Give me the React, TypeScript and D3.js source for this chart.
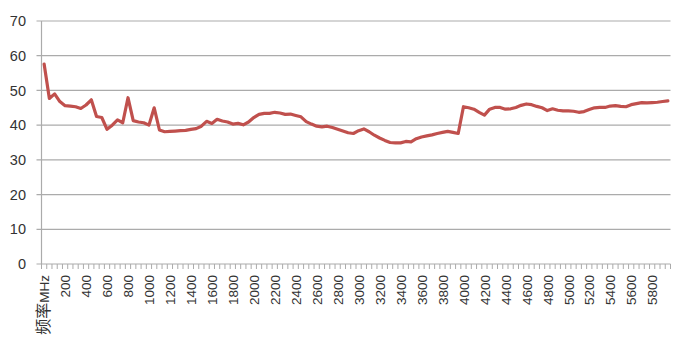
import * as d3 from 'd3';

// category axis: header cell first, then 50 MHz steps
const categories: string[] = ['频率MHz'].concat(d3.range(50, 6000, 50).map(String));

const values: number[] = [
  57.6, 47.7, 49.0, 46.8, 45.6, 45.5, 45.3, 44.8, 45.8, 47.3,
  42.5, 42.2, 38.8, 40.0, 41.5, 40.7, 47.9, 41.3, 40.9, 40.7,
  40.0, 45.0, 38.6, 38.1, 38.2, 38.3, 38.4, 38.5, 38.8, 39.0,
  39.7, 41.1, 40.5, 41.7, 41.2, 40.9, 40.3, 40.5, 40.1, 40.9,
  42.2, 43.1, 43.4, 43.4, 43.7, 43.5, 43.1, 43.2, 42.8, 42.4,
  41.0, 40.3, 39.7, 39.5, 39.7, 39.3, 38.8, 38.3, 37.8, 37.6,
  38.4, 38.9, 38.1, 37.1, 36.3, 35.6, 35.0, 34.9, 34.9, 35.3,
  35.2, 36.1, 36.6, 36.9, 37.2, 37.6, 37.9, 38.2, 37.9, 37.6,
  45.3, 45.0, 44.6, 43.7, 42.9, 44.6, 45.1, 45.1, 44.6, 44.7,
  45.1, 45.7, 46.1, 45.9, 45.4, 45.0, 44.2, 44.7, 44.3, 44.1,
  44.1, 44.0, 43.7, 43.9, 44.5, 45.0, 45.1, 45.1, 45.5, 45.6,
  45.4, 45.3, 45.9, 46.2, 46.5, 46.4, 46.5, 46.6, 46.8, 47.0,
];

const xTickLabels: string[] = [
  '频率MHz', '200', '400', '600', '800', '1000', '1200', '1400', '1600', '1800',
  '2000', '2200', '2400', '2600', '2800', '3000', '3200', '3400', '3600', '3800',
  '4000', '4200', '4400', '4600', '4800', '5000', '5200', '5400', '5600', '5800',
];

const yTicks: number[] = [0, 10, 20, 30, 40, 50, 60, 70];

const width = 676;
const height = 341;
const left = 41.5;
const right = 670.5;
const top = 21;
const bottom = 264;
const font = '"Liberation Sans", "Noto Sans CJK SC", sans-serif';

// split a label so CJK characters can be drawn a bit larger, as in the source
function labelParts(l: string) {
  const m = l.match(/^([\u4e00-\u9fff]+)(.*)$/);
  if (!m) return [l];
  return [
    <tspan key="c" fontSize={16}>{m[1]}</tspan>,
    <tspan key="l">{m[2]}</tspan>,
  ];
}

export default function App() {
  const x = d3.scaleBand<string>().domain(categories).range([left, right]).padding(0);
  const y = d3.scaleLinear().domain([0, 70]).range([bottom, top]);
  const cx = (c: string) => (x(c) as number) + x.bandwidth() / 2;

  const line = d3
    .line<number>()
    .x((_, i) => cx(categories[i]))
    .y(d => y(d));

  const tickEdges = categories.map(c => x(c) as number).concat([right]);

  return (
    <svg
      xmlns="http://www.w3.org/2000/svg"
      width={width}
      height={height}
      style={{ position: 'fixed', left: 0, top: 0, display: 'block', background: '#fff' }}
    >
      <g>
        {yTicks.map(t => (
          <line
            key={'g' + t}
            x1={left - 5}
            x2={right}
            y1={y(t)}
            y2={y(t)}
            stroke="#ababab"
            strokeWidth={1.2}
          />
        ))}
        <line x1={left} x2={left} y1={top} y2={bottom} stroke="#ababab" strokeWidth={1.2} />
        {tickEdges.map((e, i) => (
          <line key={'t' + i} x1={e} x2={e} y1={bottom} y2={bottom + 5} stroke="#ababab" strokeWidth={1} />
        ))}
      </g>
      <g fontFamily={font} fill="#333">
        {yTicks.map(t => (
          <text key={'y' + t} x={26} y={y(t)} dy="0.35em" textAnchor="end" fontSize={14.5}>
            {t}
          </text>
        ))}
        {xTickLabels.map(l => (
          <text
            key={'x' + l}
            transform={`translate(${cx(l) + 0.5},${bottom + 11}) rotate(-90)`}
            dy="0.35em"
            textAnchor="end"
            fontSize={13.5}
          >
            {labelParts(l)}
          </text>
        ))}
      </g>
      <path
        d={line(values) || ''}
        fill="none"
        stroke="#c0504d"
        strokeWidth={3.2}
        strokeLinejoin="round"
        strokeLinecap="round"
      />
    </svg>
  );
}
